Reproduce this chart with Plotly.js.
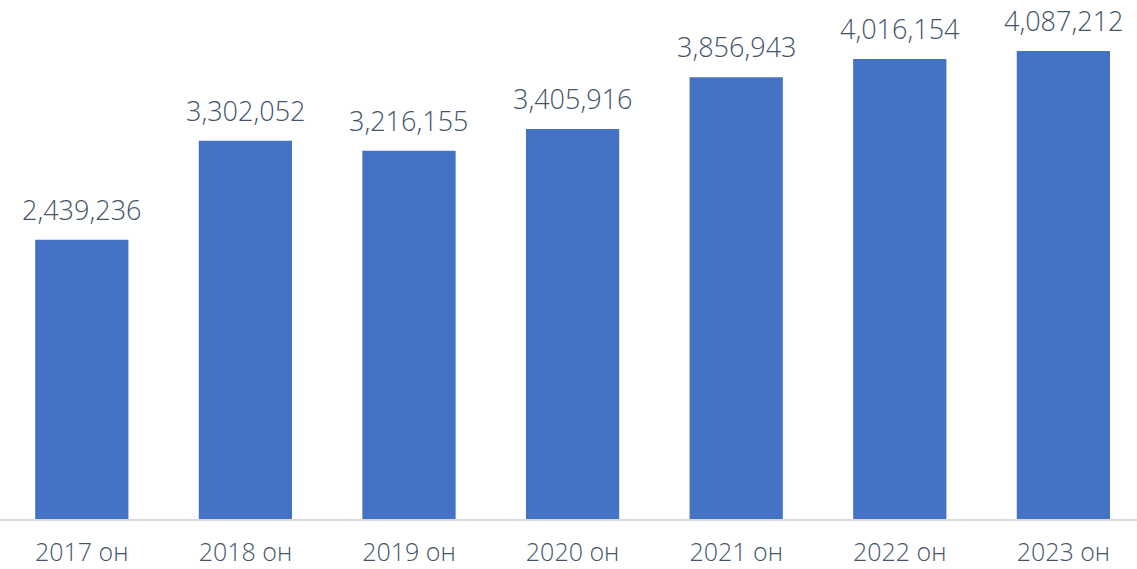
<!DOCTYPE html>
<html><head><meta charset="utf-8">
<script src="https://cdn.plot.ly/plotly-3.0.1.min.js"></script>
<style>html,body{margin:0;padding:0;background:#fff}#chart{width:1137px;height:569px}</style>
</head><body><div id="chart"></div>
<script>
const categories = ["2017 он","2018 он","2019 он","2020 он","2021 он","2022 он","2023 он"];
const values = [2439236, 3302052, 3216155, 3405916, 3856943, 4016154, 4087212];
const labels = ["2,439,236","3,302,052","3,216,155","3,405,916","3,856,943","4,016,154","4,087,212"];

const fontFam = "Open Sans, Lato, sans-serif";
const textColor = "#44546a";

const annotations = categories.map((c, i) => ({
  x: c, y: values[i], text: labels[i], showarrow: false,
  yanchor: "bottom", yshift: 10,
  font: {family: fontFam, size: 27, color: textColor, weight: 300}
}));

Plotly.newPlot("chart", [{
  type: "bar", x: categories, y: values,
  marker: {color: "#4472c4"},
  hoverinfo: "none"
}], {
  width: 1137, height: 569,
  margin: {l: 0, r: 0, t: 0, b: 50, pad: 0},
  paper_bgcolor: "#fff", plot_bgcolor: "#fff",
  bargap: 0.43,
  showlegend: false,
  xaxis: {
    type: "category", range: [-0.5, 6.45],
    showline: true, linecolor: "#d9d9d9", linewidth: 1.5,
    ticks: "", ticklabelstandoff: 10,
    tickfont: {family: fontFam, size: 25, color: textColor, weight: 300},
    showgrid: false, zeroline: false
  },
  yaxis: {
    range: [0, 4532000], visible: false, showgrid: false, zeroline: false
  },
  annotations: annotations
}, {displayModeBar: false, staticPlot: true});
</script></body></html>
